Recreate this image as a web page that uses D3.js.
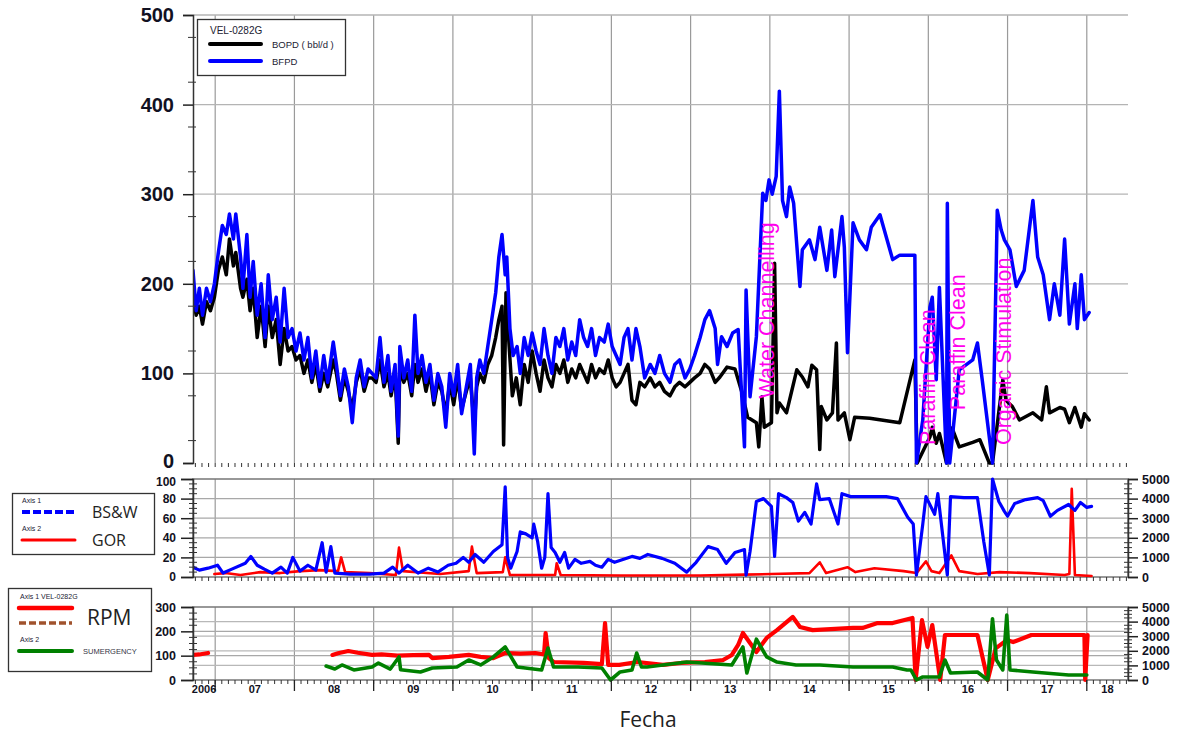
<!DOCTYPE html>
<html>
<head>
<meta charset="utf-8">
<script src="https://cdn.jsdelivr.net/npm/d3@7/dist/d3.min.js"></script>
<style>
  body { margin: 0; background: #fff; }
  svg { display: block; }
  text { font-family: "Liberation Sans", Arial, sans-serif; }
</style>
</head>
<body>
<svg id="chart" width="1189" height="734"></svg>
<script>
// --- data: [decimal year, value] ---

// Panel 1: BOPD (bbl/d) and BFPD
const bfpd = [
  [2006.72,215],[2006.76,170],[2006.80,195],[2006.84,165],[2006.89,195],[2006.94,180],[2006.99,200],
  [2007.04,235],[2007.09,265],[2007.14,255],[2007.18,278],[2007.23,250],[2007.26,278],[2007.32,230],
  [2007.35,195],[2007.40,255],[2007.44,185],[2007.48,225],[2007.53,165],[2007.58,200],[2007.63,140],
  [2007.67,210],[2007.72,160],[2007.77,185],[2007.82,135],[2007.87,195],[2007.92,140],[2007.97,150],
  [2008.02,125],[2008.07,145],[2008.12,115],[2008.17,140],[2008.22,95],[2008.27,125],[2008.32,85],
  [2008.37,120],[2008.42,90],[2008.49,135],[2008.53,110],[2008.58,75],[2008.63,105],[2008.68,85],
  [2008.73,45],[2008.78,95],[2008.83,115],[2008.88,85],[2008.93,105],[2008.98,100],[2009.03,95],
  [2009.08,140],[2009.13,90],[2009.18,120],[2009.22,80],[2009.27,110],[2009.31,30],[2009.33,130],
  [2009.38,95],[2009.43,115],[2009.48,80],[2009.52,165],[2009.56,100],[2009.61,120],[2009.66,90],
  [2009.71,110],[2009.76,70],[2009.81,100],[2009.86,85],[2009.91,40],[2009.96,100],[2010.01,75],
  [2010.06,110],[2010.11,55],[2010.17,85],[2010.22,110],[2010.27,10],[2010.30,95],[2010.34,115],
  [2010.39,100],[2010.44,130],[2010.49,160],[2010.54,190],[2010.58,230],[2010.62,255],[2010.66,210],
  [2010.68,230],[2010.72,150],[2010.76,120],[2010.81,130],[2010.85,100],[2010.90,140],[2010.95,120],
  [2011.00,145],[2011.05,125],[2011.10,110],[2011.15,150],[2011.20,120],[2011.25,100],[2011.30,140],
  [2011.35,130],[2011.40,150],[2011.45,115],[2011.50,135],[2011.55,120],[2011.60,160],[2011.65,140],
  [2011.70,130],[2011.75,150],[2011.80,120],[2011.85,140],[2011.91,135],[2011.96,155],[2012.01,130],
  [2012.06,120],[2012.11,110],[2012.16,140],[2012.21,150],[2012.26,115],[2012.31,150],[2012.36,130],
  [2012.42,95],[2012.49,110],[2012.55,100],[2012.61,120],[2012.67,100],[2012.74,90],[2012.80,110],
  [2012.86,115],[2012.93,95],[2012.99,105],[2013.05,120],[2013.12,140],[2013.18,160],[2013.24,170],
  [2013.31,150],[2013.34,110],[2013.39,141],[2013.46,130],[2013.53,145],[2013.60,149],[2013.68,18],
  [2013.70,193],[2013.75,74],[2013.83,141],[2013.91,301],[2013.95,293],[2013.99,316],[2014.03,300],
  [2014.08,320],[2014.12,415],[2014.16,293],[2014.21,275],[2014.25,308],[2014.30,290],[2014.38,197],
  [2014.41,238],[2014.50,249],[2014.57,227],[2014.63,263],[2014.72,215],[2014.78,260],[2014.82,208],
  [2014.91,275],[2014.94,241],[2014.98,123],[2015.05,268],[2015.13,249],[2015.22,238],[2015.28,263],
  [2015.39,277],[2015.55,227],[2015.64,232],[2015.83,232],[2015.85,0],[2015.93,48],[2016.02,174],
  [2016.05,185],[2016.10,93],[2016.14,196],[2016.23,0],[2016.24,290],[2016.27,0],[2016.39,104],
  [2016.56,115],[2016.62,134],[2016.68,93],[2016.81,0],[2016.87,282],[2016.92,260],[2016.96,249],
  [2017.03,238],[2017.11,197],[2017.21,215],[2017.32,293],[2017.38,230],[2017.45,210],[2017.53,160],
  [2017.59,200],[2017.66,165],[2017.72,250],[2017.78,155],[2017.85,200],[2017.88,150],[2017.93,210],
  [2017.97,160],[2018.03,168]
];

const bopd = [
  [2006.72,185],[2006.76,165],[2006.80,175],[2006.84,155],[2006.89,180],[2006.94,170],[2006.99,185],
  [2007.04,215],[2007.09,230],[2007.14,210],[2007.18,250],[2007.23,220],[2007.26,235],[2007.32,195],
  [2007.35,185],[2007.40,205],[2007.44,170],[2007.48,195],[2007.53,140],[2007.58,175],[2007.63,130],
  [2007.67,175],[2007.72,140],[2007.77,160],[2007.82,110],[2007.87,150],[2007.92,125],[2007.97,130],
  [2008.02,115],[2008.07,120],[2008.12,100],[2008.17,115],[2008.22,90],[2008.27,110],[2008.32,80],
  [2008.37,100],[2008.42,85],[2008.49,115],[2008.53,100],[2008.58,70],[2008.63,95],[2008.68,80],
  [2008.73,60],[2008.78,90],[2008.83,105],[2008.88,80],[2008.93,95],[2008.98,95],[2009.03,90],
  [2009.08,115],[2009.13,85],[2009.18,100],[2009.22,75],[2009.27,100],[2009.31,22],[2009.33,105],
  [2009.38,90],[2009.43,100],[2009.48,75],[2009.52,110],[2009.56,90],[2009.61,105],[2009.66,80],
  [2009.71,100],[2009.76,65],[2009.81,90],[2009.86,80],[2009.91,55],[2009.96,90],[2010.01,65],
  [2010.06,95],[2010.11,60],[2010.17,80],[2010.22,95],[2010.27,40],[2010.30,85],[2010.34,100],
  [2010.39,90],[2010.44,110],[2010.49,120],[2010.54,140],[2010.58,160],[2010.62,175],[2010.64,20],
  [2010.67,190],[2010.71,130],[2010.75,75],[2010.80,95],[2010.85,65],[2010.90,110],[2010.95,90],
  [2011.00,125],[2011.05,100],[2011.10,80],[2011.15,115],[2011.20,95],[2011.25,85],[2011.30,110],
  [2011.35,100],[2011.40,115],[2011.45,90],[2011.50,105],[2011.55,95],[2011.60,110],[2011.65,100],
  [2011.70,90],[2011.75,110],[2011.80,95],[2011.85,105],[2011.91,100],[2011.96,115],[2012.01,95],
  [2012.06,85],[2012.11,90],[2012.16,100],[2012.21,110],[2012.26,70],[2012.31,65],[2012.36,90],
  [2012.42,85],[2012.49,95],[2012.55,85],[2012.61,90],[2012.67,80],[2012.74,75],[2012.80,85],
  [2012.86,90],[2012.93,85],[2012.99,90],[2013.05,95],[2013.12,100],[2013.18,110],[2013.24,105],
  [2013.31,90],[2013.37,96],[2013.46,107],[2013.56,105],[2013.65,78],[2013.72,51],[2013.83,45],
  [2013.86,18],[2013.90,74],[2013.93,40],[2014.02,45],[2014.06,223],[2014.09,56],[2014.12,67],
  [2014.21,56],[2014.34,104],[2014.41,96],[2014.48,85],[2014.53,109],[2014.59,104],[2014.63,15],
  [2014.65,63],[2014.72,48],[2014.79,56],[2014.84,134],[2014.86,48],[2014.94,56],[2015.01,26],
  [2015.07,51],[2015.26,50],[2015.64,45],[2015.83,115],[2015.86,0],[2016.02,29],[2016.05,40],
  [2016.10,22],[2016.14,33],[2016.23,0],[2016.30,39],[2016.39,18],[2016.56,23],[2016.65,26],
  [2016.77,0],[2016.81,0],[2016.94,93],[2016.98,70],[2017.06,63],[2017.15,48],[2017.32,56],
  [2017.43,48],[2017.49,85],[2017.53,56],[2017.66,62],[2017.72,60],[2017.78,45],[2017.85,62],
  [2017.93,40],[2017.97,55],[2018.03,48]
];

// Panel 2: BS&W (%) on axis 1, GOR on axis 2
const bsw = [
  [2006.72,10],[2006.80,7],[2006.91,9],[2007.03,12],[2007.10,4],[2007.21,8],[2007.38,14],[2007.45,21],
  [2007.53,12],[2007.62,8],[2007.72,4],[2007.83,10],[2007.91,4],[2007.98,20],[2008.07,6],[2008.17,12],
  [2008.27,7],[2008.35,35],[2008.40,5],[2008.46,31],[2008.51,4],[2008.70,3],[2008.95,3],[2009.13,4],
  [2009.24,10],[2009.32,4],[2009.43,12],[2009.56,4],[2009.69,9],[2009.81,5],[2009.94,12],[2010.04,14],
  [2010.13,20],[2010.20,15],[2010.28,23],[2010.39,15],[2010.51,26],[2010.62,33],[2010.66,92],[2010.69,20],
  [2010.73,9],[2010.81,26],[2010.85,46],[2010.92,44],[2011.00,40],[2011.02,54],[2011.07,36],[2011.12,9],
  [2011.16,20],[2011.20,85],[2011.24,30],[2011.29,25],[2011.35,15],[2011.41,25],[2011.46,9],[2011.54,18],
  [2011.62,14],[2011.73,16],[2011.80,12],[2011.88,10],[2011.96,18],[2012.04,15],[2012.26,21],[2012.36,19],
  [2012.46,23],[2012.64,19],[2012.80,14],[2012.95,5],[2013.07,15],[2013.22,31],[2013.34,28],[2013.45,14],
  [2013.56,25],[2013.68,28],[2013.70,2],[2013.75,26],[2013.83,77],[2013.92,80],[2014.02,72],[2014.06,21],
  [2014.11,85],[2014.21,81],[2014.29,76],[2014.36,57],[2014.44,66],[2014.52,54],[2014.59,95],[2014.63,79],
  [2014.75,80],[2014.86,54],[2014.91,85],[2015.02,82],[2015.26,82],[2015.47,82],[2015.61,80],[2015.74,61],
  [2015.81,54],[2015.85,2],[2015.93,54],[2015.97,82],[2016.08,64],[2016.12,85],[2016.24,2],[2016.28,82],
  [2016.45,81],[2016.62,81],[2016.70,36],[2016.77,2],[2016.81,100],[2016.89,77],[2016.96,67],[2017.00,62],
  [2017.09,75],[2017.23,79],[2017.38,81],[2017.45,78],[2017.54,62],[2017.63,68],[2017.77,74],[2017.85,68],
  [2017.92,76],[2018.00,71],[2018.06,72]
];

const gor = [
  [2006.99,150],[2007.13,200],[2007.32,100],[2007.57,250],[2007.82,200],[2008.07,300],[2008.32,350],
  [2008.55,300],[2008.59,1000],[2008.64,250],[2008.95,200],[2009.28,100],[2009.32,1500],[2009.37,300],
  [2009.84,150],[2010.20,300],[2010.24,1550],[2010.30,200],[2010.63,250],[2010.66,1000],[2010.72,100],
  [2011.29,100],[2011.31,700],[2011.36,100],[2012.11,80],[2013.12,80],[2013.68,120],[2014.02,150],
  [2014.50,200],[2014.63,750],[2014.71,200],[2014.98,500],[2015.08,250],[2015.32,450],[2015.69,300],
  [2015.85,200],[2015.97,800],[2016.04,300],[2016.14,200],[2016.29,1100],[2016.39,300],[2016.62,150],
  [2016.90,250],[2017.28,200],[2017.72,100],[2017.78,150],[2017.81,4500],[2017.85,100],[2018.06,50]
];

// Panel 3: RPM on axis 1, SUMERGENCY on axis 2 (null = no data)
const rpm = [
  [2006.72,103],[2006.80,105],[2006.91,111],[2007.50,null],[2008.48,103],[2008.55,110],[2008.68,119],
  [2008.80,112],[2008.98,103],[2009.10,105],[2009.30,100],[2009.50,102],[2009.70,103],[2009.74,90],
  [2009.95,95],[2010.20,103],[2010.35,95],[2010.51,90],[2010.66,111],[2010.85,108],[2011.04,111],
  [2011.15,105],[2011.17,193],[2011.21,90],[2011.27,74],[2011.65,70],[2011.88,65],[2011.92,234],
  [2011.96,62],[2012.10,62],[2012.33,74],[2012.65,62],[2012.88,70],[2013.18,74],[2013.41,82],
  [2013.52,103],[2013.60,144],[2013.66,193],[2013.75,152],[2013.83,115],[2013.96,173],[2014.09,205],
  [2014.29,259],[2014.38,218],[2014.54,205],[2015.05,214],[2015.17,214],[2015.36,234],[2015.55,234],
  [2015.80,255],[2015.84,0],[2015.92,246],[2015.99,136],[2016.05,226],[2016.15,0],[2016.21,185],
  [2016.62,185],[2016.75,0],[2016.85,130],[2016.99,164],[2017.07,156],[2017.30,185],[2017.97,185],
  [2017.98,0],[2018.01,185]
];

const sumergency = [
  [2008.40,960],[2008.51,750],[2008.60,1030],[2008.75,690],[2008.98,890],[2009.06,1160],[2009.21,750],
  [2009.32,1580],[2009.34,700],[2009.59,550],[2009.74,820],[2010.05,890],[2010.20,1370],[2010.35,1030],
  [2010.51,1580],[2010.66,2260],[2010.81,890],[2011.12,690],[2011.20,2190],[2011.27,890],[2011.58,890],
  [2011.88,820],[2011.99,0],[2012.11,550],[2012.26,690],[2012.32,1850],[2012.38,890],[2012.45,890],
  [2012.95,1230],[2013.52,1030],[2013.66,2260],[2013.71,480],[2013.83,2800],[2013.96,1580],[2014.09,1230],
  [2014.33,1030],[2014.63,1030],[2015.05,890],[2015.25,890],[2015.55,890],[2015.73,690],[2015.78,690],
  [2015.85,0],[2015.93,210],[2016.14,210],[2016.21,1370],[2016.28,480],[2016.62,550],[2016.75,0],
  [2016.81,4200],[2016.86,1370],[2016.94,690],[2016.99,4450],[2017.03,690],[2017.32,550],[2017.77,340],
  [2018.00,340]
];

// Axis tick values and labels
const yearStarts = [2006, 2007, 2008, 2009, 2010, 2011, 2012, 2013, 2014, 2015, 2016, 2017, 2018];
const yearLabels = ["2006", "07", "08", "09", "10", "11", "12", "13", "14", "15", "16", "17", "18"];
const topTicks = [0, 100, 200, 300, 400, 500];
const bswTicks = [0, 20, 40, 60, 80, 100];
const rpmTicks = [0, 100, 200, 300];
const rightTicks = [0, 1000, 2000, 3000, 4000, 5000];

// Event annotations: [label, decimal year, BFPD value at bottom of text]
const events = [
  ["Water Channelling", 2013.96, 72],
  ["Paraffin Clean", 2015.99, 20],
  ["Paraffin Clean", 2016.37, 59],
  ["Organic Stimulation", 2016.94, 20]
];

// --- layout ---
const svg = d3.select("#chart");
const left = 193, right = 1128;
const axisColor = "#111122";
const gridColor = "#b4b4b4";

const x = d3.scaleLinear().domain([2006.72, 2018.52]).range([left, right]);

const yTop = d3.scaleLinear().domain([0, 500]).range([463, 15]);
const yBsw = d3.scaleLinear().domain([0, 100]).range([577, 479]);
const yGor = d3.scaleLinear().domain([0, 5000]).range([577, 479]);
const yRpm = d3.scaleLinear().domain([0, 300]).range([680, 607]);
const ySub = d3.scaleLinear().domain([0, 5000]).range([680, 607]);

const gridYears = yearStarts.filter(y => x(y) > left + 2);
const months = d3.range(Math.ceil(2006.72 * 12), Math.floor(2018.52 * 12) + 1).map(m => m / 12);

const defs = svg.append("defs");
function clip(id, y0, y1) {
  defs.append("clipPath").attr("id", id)
    .append("rect").attr("x", left).attr("y", y0 - 3).attr("width", right - left).attr("height", y1 - y0 + 6);
  return "url(#" + id + ")";
}

function vGrid(y0, y1) {
  svg.append("g").selectAll("line").data(gridYears).join("line")
    .attr("x1", d => x(d)).attr("x2", d => x(d))
    .attr("y1", y0).attr("y2", y1)
    .attr("stroke", "#9a9a9a").attr("stroke-width", 1.2);
}

function hGrid(scale, vals, color) {
  svg.append("g").selectAll("line").data(vals).join("line")
    .attr("x1", left).attr("x2", right)
    .attr("y1", d => scale(d)).attr("y2", d => scale(d))
    .attr("stroke", color).attr("stroke-width", 1.3);
}

function monthTicks(yBase, len) {
  svg.append("g").selectAll("line").data(months).join("line")
    .attr("x1", d => x(d)).attr("x2", d => x(d))
    .attr("y1", yBase).attr("y2", yBase + len)
    .attr("stroke", "#333").attr("stroke-width", 1);
}

function minorTicks(scale, vals, xPos) {
  svg.append("g").selectAll("line").data(vals).join("line")
    .attr("x1", xPos - 4).attr("x2", xPos + 4)
    .attr("y1", d => scale(d)).attr("y2", d => scale(d))
    .attr("stroke", "#333").attr("stroke-width", 1);
}

function styleAxis(g, size) {
  g.select(".domain").attr("stroke", "#333").attr("stroke-width", 1.5);
  g.selectAll(".tick line").attr("stroke", "#222").attr("stroke-width", 1.5);
  g.selectAll(".tick text").attr("fill", axisColor).attr("font-weight", "bold")
    .attr("font-size", size).style("font-family", '"Liberation Sans", Arial, sans-serif');
}

function drawLine(data, scale, color, width, clipUrl, dash) {
  const line = d3.line()
    .defined(d => d[1] !== null)
    .x(d => x(d[0])).y(d => scale(d[1]));
  svg.append("path").datum(data)
    .attr("d", line)
    .attr("fill", "none")
    .attr("stroke", color)
    .attr("stroke-width", width)
    .attr("stroke-linejoin", "round")
    .attr("stroke-linecap", "round")
    .attr("stroke-dasharray", dash || null)
    .attr("clip-path", clipUrl);
}

// ---------- Panel 1 ----------
vGrid(15, 463);
hGrid(yTop, [100, 200, 300, 400, 500], gridColor);
monthTicks(463, 4);
const clipTop = clip("clipTop", 15, 463);
drawLine(bopd, yTop, "#000000", 3.5, clipTop);
drawLine(bfpd, yTop, "#0000ff", 3.5, clipTop);

minorTicks(yTop, d3.range(25, 500, 50), left - 1);
const axTop = svg.append("g").attr("transform", `translate(${left},0)`)
  .call(d3.axisLeft(yTop).tickValues(topTicks).tickSize(10).tickPadding(9));
styleAxis(axTop, 20);
axTop.selectAll(".tick text").filter(d => d === 0).attr("dy", "0.2em");

// event annotations
svg.append("g").selectAll("text").data(events).join("text")
  .attr("transform", d => `translate(${x(d[1])},${yTop(d[2])}) rotate(-90)`)
  .attr("dy", "0.36em")
  .attr("fill", "#ff00ee")
  .attr("font-size", 21.5)
  .text(d => d[0]);

// legend 1
const lg1 = svg.append("g");
lg1.append("rect").attr("x", 197.5).attr("y", 19.5).attr("width", 148).attr("height", 56)
  .attr("fill", "#fff").attr("stroke", "#333").attr("stroke-width", 1.3);
lg1.append("text").attr("x", 210).attr("y", 34).attr("font-size", 10).attr("fill", "#223").text("VEL-0282G");
lg1.append("line").attr("x1", 210).attr("x2", 261).attr("y1", 44).attr("y2", 44)
  .attr("stroke", "#000").attr("stroke-width", 4).attr("stroke-linecap", "round");
lg1.append("text").attr("x", 272).attr("y", 48).attr("font-size", 9.5).attr("fill", "#223").text("BOPD ( bbl/d )");
lg1.append("line").attr("x1", 210).attr("x2", 261).attr("y1", 61).attr("y2", 61)
  .attr("stroke", "#0000ff").attr("stroke-width", 4).attr("stroke-linecap", "round");
lg1.append("text").attr("x", 272).attr("y", 65).attr("font-size", 9.5).attr("fill", "#223").text("BFPD");

// ---------- Panel 2 ----------
vGrid(479, 577);
hGrid(yBsw, [20, 40, 60, 80], "#a8a8a8");
svg.append("rect").attr("x", left).attr("y", 479).attr("width", right - left).attr("height", 98)
  .attr("fill", "none").attr("stroke", "#777").attr("stroke-width", 1.5);
monthTicks(577, 4);
const clipMid = clip("clipMid", 479, 577);
drawLine(gor, yGor, "#ff0000", 2.6, clipMid);
drawLine(bsw, yBsw, "#0000ff", 3.2, clipMid);

minorTicks(yBsw, d3.range(0, 101, 5).filter(v => v % 20 !== 0), left);
const axBsw = svg.append("g").attr("transform", `translate(${left},0)`)
  .call(d3.axisLeft(yBsw).tickValues(bswTicks).tickSize(12).tickPadding(5));
styleAxis(axBsw, 12);
axBsw.selectAll(".tick text").filter(d => d === 100).attr("dy", "0.5em");
minorTicks(yGor, d3.range(0, 5001, 250).filter(v => v % 1000 !== 0), right);
const axGor = svg.append("g").attr("transform", `translate(${right},0)`)
  .call(d3.axisRight(yGor).tickValues(rightTicks).tickSize(10).tickPadding(4).tickFormat(d3.format("d")));
styleAxis(axGor, 12.5);

// legend 2
const lg2 = svg.append("g");
lg2.append("rect").attr("x", 12.5).attr("y", 493.5).attr("width", 142).attr("height", 61)
  .attr("fill", "#fff").attr("stroke", "#333").attr("stroke-width", 1.3);
lg2.append("text").attr("x", 22).attr("y", 503).attr("font-size", 7).attr("fill", "#223").text("Axis 1");
lg2.append("line").attr("x1", 22).attr("x2", 75).attr("y1", 512).attr("y2", 512)
  .attr("stroke", "#0000ff").attr("stroke-width", 4).attr("stroke-dasharray", "8,3");
lg2.append("text").attr("x", 92).attr("y", 518).attr("font-size", 16)
  .style("font-family", '"Open Sans", sans-serif').attr("fill", "#222").text("BS&W");
lg2.append("text").attr("x", 22).attr("y", 531).attr("font-size", 7).attr("fill", "#223").text("Axis 2");
lg2.append("line").attr("x1", 22).attr("x2", 75).attr("y1", 540).attr("y2", 540)
  .attr("stroke", "#ff0000").attr("stroke-width", 3).attr("stroke-linecap", "round");
lg2.append("text").attr("x", 92).attr("y", 546).attr("font-size", 16)
  .style("font-family", '"Open Sans", sans-serif').attr("fill", "#222").text("GOR");

// ---------- Panel 3 ----------
vGrid(607, 680);
hGrid(yRpm, [100, 200], "#a8a8a8");
hGrid(ySub, [1000, 2000, 3000, 4000], "#b8b8b8");
svg.append("rect").attr("x", left).attr("y", 607).attr("width", right - left).attr("height", 73)
  .attr("fill", "none").attr("stroke", "#777").attr("stroke-width", 1.5);
const clipBot = clip("clipBot", 607, 680);
drawLine(rpm, yRpm, "#ff0000", 4.2, clipBot);
drawLine(sumergency, ySub, "#008000", 3.6, clipBot);

minorTicks(yRpm, d3.range(0, 301, 25).filter(v => v % 100 !== 0), left);
const axRpm = svg.append("g").attr("transform", `translate(${left},0)`)
  .call(d3.axisLeft(yRpm).tickValues(rpmTicks).tickSize(12).tickPadding(5));
styleAxis(axRpm, 12.5);
minorTicks(ySub, d3.range(0, 5001, 250).filter(v => v % 1000 !== 0), right);
const axSub = svg.append("g").attr("transform", `translate(${right},0)`)
  .call(d3.axisRight(ySub).tickValues(rightTicks).tickSize(10).tickPadding(4).tickFormat(d3.format("d")));
styleAxis(axSub, 12.5);

// bottom time axis
monthTicks(680, 4);
svg.append("g").selectAll("line").data(gridYears).join("line")
  .attr("x1", d => x(d)).attr("x2", d => x(d)).attr("y1", 680).attr("y2", 691)
  .attr("stroke", "#222").attr("stroke-width", 1.3);
svg.append("g").selectAll("text").data(yearStarts).join("text")
  .attr("x", (d, i) => {
    const a = Math.max(x(d), left), b = Math.min(x(d + 1), right);
    return (a + b) / 2;
  })
  .attr("y", 693)
  .attr("text-anchor", "middle")
  .attr("font-size", 11).attr("font-weight", "bold").attr("fill", axisColor)
  .text((d, i) => yearLabels[i]);

svg.append("text").attr("x", 648).attr("y", 727).attr("text-anchor", "middle")
  .attr("font-size", 21).style("font-family", '"Open Sans", sans-serif').attr("fill", "#222")
  .text("Fecha");

// legend 3
const lg3 = svg.append("g");
lg3.append("rect").attr("x", 8.5).attr("y", 588.5).attr("width", 143).attr("height", 83)
  .attr("fill", "#fff").attr("stroke", "#333").attr("stroke-width", 1.3);
lg3.append("text").attr("x", 20).attr("y", 599).attr("font-size", 7).attr("fill", "#223").text("Axis 1  VEL-0282G");
lg3.append("line").attr("x1", 19).attr("x2", 72).attr("y1", 608).attr("y2", 608)
  .attr("stroke", "#ff0000").attr("stroke-width", 4.5).attr("stroke-linecap", "round");
lg3.append("line").attr("x1", 19).attr("x2", 72).attr("y1", 623).attr("y2", 623)
  .attr("stroke", "#a0522d").attr("stroke-width", 3.5).attr("stroke-dasharray", "7,3");
lg3.append("text").attr("x", 87).attr("y", 625).attr("font-size", 21)
  .style("font-family", '"Open Sans", sans-serif').attr("fill", "#222").text("RPM");
lg3.append("text").attr("x", 20).attr("y", 642).attr("font-size", 7).attr("fill", "#223").text("Axis 2");
lg3.append("line").attr("x1", 19).attr("x2", 72).attr("y1", 651).attr("y2", 651)
  .attr("stroke", "#008000").attr("stroke-width", 4).attr("stroke-linecap", "round");
lg3.append("text").attr("x", 83).attr("y", 654).attr("font-size", 7.5).attr("fill", "#334").text("SUMERGENCY");
</script>
</body>
</html>
